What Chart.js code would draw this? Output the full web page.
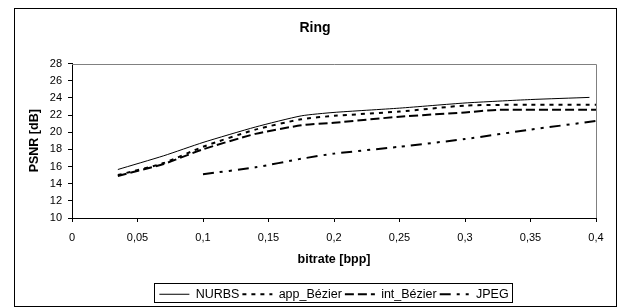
<!DOCTYPE html>
<html>
<head>
<meta charset="utf-8">
<script src="https://cdn.jsdelivr.net/npm/chart.js@4/dist/chart.umd.min.js"></script>
<style>
  html, body { margin: 0; padding: 0; background: #fff; }
  #wrap { position: relative; width: 618px; height: 307px; }
</style>
</head>
<body>
<div id="wrap"><canvas id="c" width="618" height="307"></canvas></div>
<script>
// ---- data ----
const chartTitle = 'Ring';
const xAxisTitle = 'bitrate [bpp]';
const yAxisTitle = 'PSNR [dB]';
const seriesNames = ['NURBS', 'app_Bézier', 'int_Bézier', 'JPEG'];

const bitrateNURBS = [0.035, 0.07, 0.1, 0.14, 0.175, 0.2, 0.25, 0.3, 0.35, 0.395];
const psnrNURBS    = [15.65, 17.25, 18.8, 20.6, 21.9, 22.3, 22.8, 23.4, 23.8, 24.05];

const bitrateApp = [0.035, 0.07, 0.1, 0.14, 0.175, 0.2, 0.25, 0.3, 0.35, 0.4];
const psnrApp    = [15.0, 16.4, 18.3, 20.3, 21.5, 21.9, 22.4, 23.1, 23.2, 23.2];

const bitrateInt = [0.035, 0.07, 0.1, 0.14, 0.175, 0.2, 0.25, 0.3, 0.325, 0.4];
const psnrInt    = [14.9, 16.3, 18.0, 19.8, 20.8, 21.1, 21.8, 22.3, 22.6, 22.6];

const bitrateJPEG = [0.1, 0.14, 0.175, 0.2, 0.25, 0.3, 0.35, 0.4];
const psnrJPEG    = [15.1, 15.9, 16.9, 17.5, 18.3, 19.2, 20.3, 21.3];

const xTickLabels = ['0', '0,05', '0,1', '0,15', '0,2', '0,25', '0,3', '0,35', '0,4'];
const yTickLabels = ['10', '12', '14', '16', '18', '20', '22', '24', '26', '28'];

// ---- build ----
const toPts = (xs, ys) => xs.map((x, i) => ({x: x, y: ys[i]}));
const FONT = "'Liberation Sans', Arial, sans-serif";

const styles = [
  {borderWidth: 1, borderDash: []},
  {borderWidth: 2, borderDash: [4, 5]},
  {borderWidth: 2, borderDash: [9, 4]},
  {borderWidth: 2, borderDash: [11, 6, 3, 6, 3, 6]}
];
const series = [[bitrateNURBS, psnrNURBS], [bitrateApp, psnrApp], [bitrateInt, psnrInt], [bitrateJPEG, psnrJPEG]];

const datasets = series.map((s, i) => ({
  label: seriesNames[i],
  data: toPts(s[0], s[1]),
  borderColor: '#000',
  backgroundColor: 'transparent',
  borderWidth: styles[i].borderWidth,
  borderDash: styles[i].borderDash,
  pointRadius: 0,
  pointStyle: 'line',
  tension: 0.2,
  fill: false
}));

const framePlugin = {
  id: 'frame',
  beforeDraw(chart) {
    const ctx = chart.ctx;
    ctx.save();
    ctx.fillStyle = '#fff';
    ctx.fillRect(0, 0, chart.width, chart.height);
    ctx.restore();
  },
  afterDatasetsDraw(chart) {
    const ctx = chart.ctx;
    const a = chart.chartArea;
    ctx.save();
    ctx.strokeStyle = '#808080';
    ctx.lineWidth = 1;
    ctx.setLineDash([]);
    ctx.beginPath();
    ctx.moveTo(Math.round(a.left), Math.round(a.top) + 0.5);
    ctx.lineTo(Math.round(a.right) + 0.5, Math.round(a.top) + 0.5);
    ctx.lineTo(Math.round(a.right) + 0.5, Math.round(a.bottom));
    ctx.stroke();
    ctx.restore();
  },
  afterDraw(chart) {
    const ctx = chart.ctx;
    ctx.save();
    ctx.strokeStyle = '#000';
    ctx.lineWidth = 1;
    ctx.setLineDash([]);
    ctx.strokeRect(14.5, 8.5, 602, 298);
    const lg = chart.legend;
    if (lg && lg.legendHitBoxes && lg.legendHitBoxes.length) {
      const hb = lg.legendHitBoxes;
      const l = Math.round(hb[0].left) - 4.5;
      const last = hb[hb.length - 1];
      const r = Math.round(last.left + last.width) + 3.5;
      ctx.strokeRect(l, 283.5, r - l, 19);
    }
    ctx.restore();
  }
};

new Chart(document.getElementById('c'), {
  type: 'line',
  data: {datasets: datasets},
  plugins: [framePlugin],
  options: {
    responsive: false,
    animation: false,
    devicePixelRatio: 1,
    layout: {padding: {left: 14, right: 2, top: 0, bottom: 0}},
    plugins: {
      title: {
        display: true, text: chartTitle, color: '#000',
        font: {family: FONT, size: 14, weight: 'bold'},
        padding: {top: 19.6, bottom: 27.1}
      },
      legend: {
        display: true, position: 'bottom', fullSize: false, maxHeight: 22,
        labels: {
          color: '#000', font: {family: FONT, size: 12.5},
          usePointStyle: true, pointStyle: 'line', pointStyleWidth: 30,
          boxHeight: 10, padding: 3,
          generateLabels: (chart) => chart.data.datasets.map((ds, i) => ({
            text: ds.label,
            datasetIndex: i,
            fillStyle: 'transparent',
            strokeStyle: '#000',
            fontColor: '#000',
            lineWidth: ds.borderWidth,
            lineDash: ds.borderDash,
            lineCap: 'butt',
            pointStyle: 'line',
            hidden: false
          }))
        }
      },
      tooltip: {enabled: false}
    },
    scales: {
      x: {
        type: 'linear', min: 0, max: 0.4,
        afterBuildTicks: s => { s.ticks = xTickLabels.map((t, i) => ({value: i * 0.05})); },
        afterFit: s => { s.height = 67; },
        grid: {display: true, drawOnChartArea: false, drawTicks: true, tickLength: 4, color: '#000'},
        border: {display: true, color: '#000', width: 1},
        ticks: {
          color: '#000', font: {family: FONT, size: 11}, padding: 9, maxRotation: 0, autoSkip: false,
          callback: (v, i) => xTickLabels[i]
        },
        title: {display: true, text: xAxisTitle, color: '#000',
          font: {family: FONT, size: 12.5, weight: 'bold'}, padding: {top: 0, bottom: 17.5}}
      },
      y: {
        type: 'linear', min: 10, max: 28,
        afterBuildTicks: s => { s.ticks = yTickLabels.map(t => ({value: Number(t)})); },
        afterFit: s => { s.width = 58; },
        grid: {display: true, drawOnChartArea: false, drawTicks: true, tickLength: 4, color: '#000'},
        border: {display: true, color: '#000', width: 1},
        ticks: {
          color: '#000', font: {family: FONT, size: 11}, padding: 6, autoSkip: false,
          callback: (v, i) => yTickLabels[i]
        },
        title: {display: true, text: yAxisTitle, color: '#000',
          font: {family: FONT, size: 12.5, weight: 'bold'}, padding: {top: 13.5, bottom: 0}}
      },
      yR: {
        type: 'linear', position: 'right', display: true,
        afterFit: s => { s.width = 20; },
        grid: {display: false, drawTicks: false},
        border: {display: false},
        ticks: {display: false}
      }
    }
  }
});
</script>
</body>
</html>
